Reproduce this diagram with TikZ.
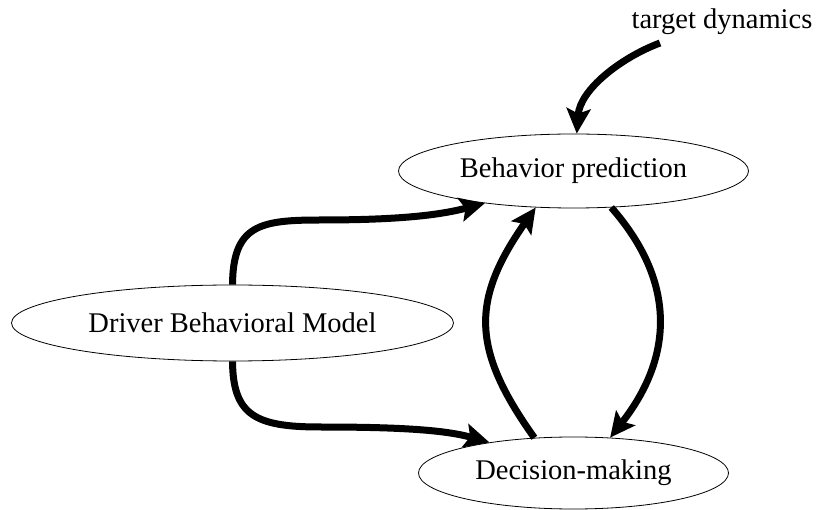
\documentclass[tikz,border=0pt]{standalone}
\usepackage{fontspec}
\setmainfont{Liberation Serif}
\usetikzlibrary{arrows.meta,shapes.geometric}
\begin{document}
\begin{tikzpicture}[x=1pt,y=-1pt,
  state/.style={draw, ellipse, line width=0.8pt, inner sep=0pt, font=\fontsize{28.5}{34}\selectfont},
  link/.style={line width=7pt, -{Stealth[length=25pt,width=24pt,inset=5pt]}},
  lbl/.style={font=\fontsize{28.5}{34}\selectfont, inner sep=0pt}]
\useasboundingbox (0,0) rectangle (817,510);
\node[state, minimum width=350pt, minimum height=74pt] (bp) at (573.5,171) {Behavior prediction};
\node[state, minimum width=442pt, minimum height=76pt] (dbm) at (232.5,323) {Driver Behavioral Model};
\node[state, minimum width=310pt, minimum height=72pt] (dm) at (573.5,473) {Decision-making};
\node[lbl, anchor=base] (td) at (722,28.5) {target dynamics};
\coordinate (tdstart) at (660,43);

\draw[link] (tdstart) .. controls (620,58) and (580,90) .. (bp.85);
\draw[link] (dbm.north) .. controls (233,225) and (260,220) .. (320,220)
  .. controls (400,220) and (440,215) .. (bp.200);
\draw[link] (dbm.south) .. controls (233,415) and (255,427) .. (320,427)
  .. controls (400,427) and (445,430) .. (dm.160.5);
\draw[link] (dm.138) .. controls (471,349) and (471,300) .. (bp.224.5);
\draw[link] (bp.316) .. controls (675,280) and (675,355) .. (dm.44);
\end{tikzpicture}
\end{document}
